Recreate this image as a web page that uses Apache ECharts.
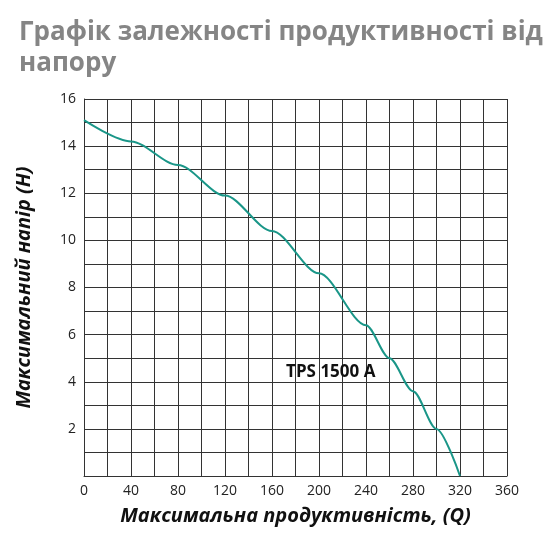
<!DOCTYPE html>
<html><head><meta charset="utf-8">
<script src="https://cdn.jsdelivr.net/npm/echarts@6/dist/echarts.min.js"></script>
<style>body{margin:0}#c{width:545px;height:545px}</style></head>
<body><div id="c"></div>
<script>
var flow=[0,40,80,120,160,200,240,260,280,300,320];
var head=[15.1,14.2,13.2,11.9,10.4,8.6,6.4,5.0,3.6,2.0,0];
var xTicks=[0,40,80,120,160,200,240,280,320,360];
var seriesName='TPS 1500 A';
var c=echarts.init(document.getElementById('c'));
var font='Open Sans';
c.setOption({
 animation:false,
 title:{text:'Графік залежності продуктивності від\nнапору',left:14,top:12,textStyle:{color:'#858585',fontSize:26,fontWeight:'bold',fontFamily:font,lineHeight:31}},
 grid:{left:84,right:38,top:99,bottom:69},
 xAxis:{type:'value',min:0,max:360,interval:20,
  axisLabel:{color:'#222',fontSize:14,fontFamily:font,formatter:function(v){return xTicks.indexOf(v)>=0?v:'';}},
  axisLine:{lineStyle:{color:'#333'}},axisTick:{show:false},
  splitLine:{lineStyle:{color:'#333',width:1}},
  name:'Максимальна продуктивність, (Q)',nameLocation:'middle',nameGap:30,
  nameTextStyle:{fontSize:20,fontWeight:'bold',fontStyle:'italic',color:'#111',fontFamily:font}},
 yAxis:{type:'value',min:0,max:16,interval:1,
  axisLabel:{color:'#222',fontSize:14,fontFamily:font,formatter:function(v){return (v>0&&v%2==0)?v:'';}},
  axisLine:{lineStyle:{color:'#333'}},axisTick:{show:false},
  splitLine:{lineStyle:{color:'#333',width:1}},
  name:'Максимальний напір (Н)',nameLocation:'middle',nameGap:50,
  nameTextStyle:{fontSize:20,fontWeight:'bold',fontStyle:'italic',color:'#111',fontFamily:font}},
 series:[{type:'line',name:seriesName,data:flow.map(function(q,i){return [q,head[i]];}),
  smooth:0.3,smoothMonotone:'x',showSymbol:false,lineStyle:{color:'#1a9688',width:2},
  markPoint:{symbol:'rect',symbolSize:1,itemStyle:{color:'rgba(0,0,0,0)'},
   data:[{coord:[210,4.4],label:{show:true,formatter:seriesName,color:'#111',fontSize:17,fontWeight:'bold',fontFamily:font}}]}}]
});
</script></body></html>
